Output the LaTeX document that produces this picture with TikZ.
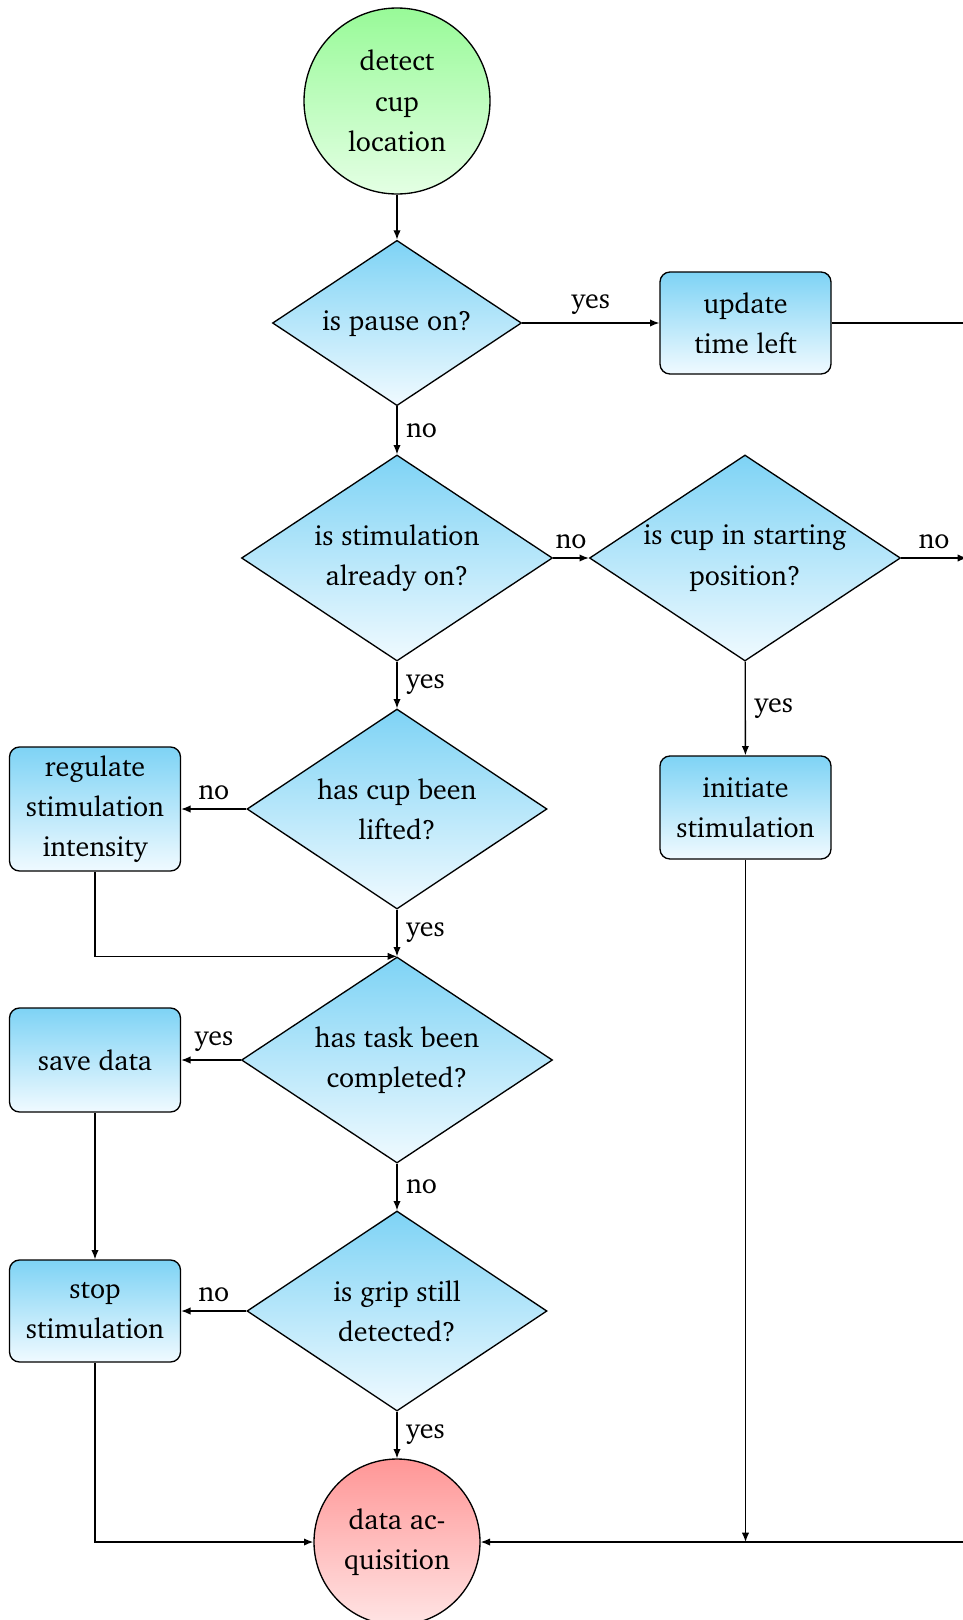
\documentclass[tikz,border=0pt]{standalone}
\usepackage[T1]{fontenc}
\renewcommand{\rmdefault}{bch}
\usetikzlibrary{shapes.geometric,arrows.meta}

\definecolor{boxtop}{RGB}{126,211,245}
\definecolor{boxbot}{RGB}{240,250,255}
\definecolor{starttop}{RGB}{152,250,152}
\definecolor{startbot}{RGB}{228,255,228}
\definecolor{endtop}{RGB}{255,150,150}
\definecolor{endbot}{RGB}{255,228,228}

\tikzset{
  x=0.3pt, y=-0.3pt,
  every node/.style={font=\rmfamily\fontsize{8.4}{12.1}\selectfont, align=center},
  decision/.style={diamond, draw, shape aspect=1.5, inner sep=-8pt,
    top color=boxtop, bottom color=boxbot},
  procbox/.style={rectangle, draw, rounded corners=3pt, inner sep=0pt,
    minimum width=51.3pt, top color=boxtop, bottom color=boxbot},
  startnode/.style={circle, draw, inner sep=0pt, minimum size=55.8pt,
    top color=starttop, bottom color=startbot},
  endnode/.style={circle, draw, inner sep=0pt, minimum size=49.8pt,
    top color=endtop, bottom color=endbot},
  flow/.style={draw, -{Latex[length=2.8pt,width=2.2pt]}},
  plain/.style={draw},
  lbl/.style={inner sep=2.5pt}
}

\begin{document}
\begin{tikzpicture}
\useasboundingbox (0,0) rectangle (963,1620);
\clip (0,0) rectangle (963,1620);

% nodes
\node[startnode] (detect) at (397,101) {detect\\cup\\location};
\node[decision, minimum width=74.7pt, minimum height=49.6pt] (pause) at (397,323) {is pause on?};
\node[procbox, minimum height=30.6pt] (update) at (745.5,323) {update\\time left};
\node[decision, minimum width=93.3pt, minimum height=61.8pt] (stimon) at (397,558) {is stimulation\\already on?};
\node[decision, minimum width=93.3pt, minimum height=61.8pt] (cupstart) at (745,558) {is cup in starting\\position?};
\node[procbox, minimum height=30.9pt] (initiate) at (745.5,807.5) {initiate\\stimulation};
\node[decision, minimum width=90pt, minimum height=60pt] (lifted) at (397,809) {has cup been\\lifted?};
\node[procbox, minimum height=37.2pt] (regulate) at (95,809) {regulate\\stimulation\\intensity};
\node[decision, minimum width=93.3pt, minimum height=61.8pt] (completed) at (397,1060) {has task been\\completed?};
\node[procbox, minimum height=31.2pt] (save) at (95,1060) {save data};
\node[procbox, minimum height=30.6pt] (stop) at (95,1311) {stop\\stimulation};
\node[decision, minimum width=90pt, minimum height=60pt] (grip) at (397,1311) {is grip still\\detected?};
\node[endnode] (acq) at (397,1542) {data ac-\\quisition};

% routing points on the right-hand return line
\coordinate (rtop) at (967,323);
\coordinate (rcup) at (967,558);
\coordinate (rbot) at (967,1542);

% connectors
\path[flow] (detect) -- (pause);
\path[flow] (pause) -- node[lbl, above] {yes} (update);
\path[plain] (update.east) -- (rtop) -- (rbot);
\path[flow] (rbot) -- (acq.east);
\path[flow] (pause) -- node[lbl, right] {no} (stimon);
\path[flow] (stimon) -- node[lbl, above] {no} (cupstart);
\path[flow] (cupstart.east) -- node[lbl, above] {no} (rcup);
\path[flow] (cupstart) -- node[lbl, right] {yes} (initiate);
\path[flow] (initiate.south) -- (initiate.south |- acq.east);
\path[flow] (stimon) -- node[lbl, right] {yes} (lifted);
\path[flow] (lifted) -- node[lbl, above] {no} (regulate);
\path[flow] (lifted) -- node[lbl, right] {yes} (completed.north);
\path[flow] (regulate.south) |- (completed.north);
\path[flow] (completed) -- node[lbl, above, pos=0.45] {yes} (save);
\path[flow] (completed) -- node[lbl, right] {no} (grip);
\path[flow] (save) -- (stop);
\path[flow] (grip) -- node[lbl, above] {no} (stop);
\path[flow] (grip) -- node[lbl, right] {yes} (acq);
\path[flow] (stop.south) |- (acq.west);
\end{tikzpicture}
\end{document}
